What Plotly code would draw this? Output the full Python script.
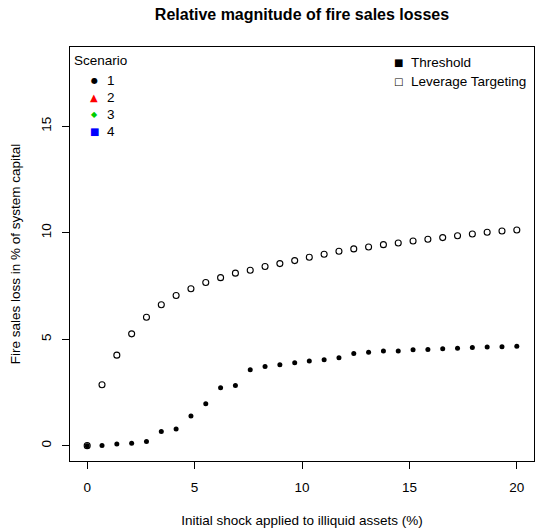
import plotly.graph_objects as go

# ---- data ----
shock_pct = [0.00, 0.69, 1.38, 2.07, 2.76, 3.45, 4.14, 4.83, 5.52, 6.21,
             6.90, 7.59, 8.28, 8.97, 9.66, 10.34, 11.03, 11.72, 12.41, 13.10,
             13.79, 14.48, 15.17, 15.86, 16.55, 17.24, 17.93, 18.62, 19.31, 20.00]
threshold_loss = [0.00, 0.01, 0.08, 0.11, 0.20, 0.67, 0.78, 1.39, 1.97, 2.72,
                  2.83, 3.56, 3.72, 3.80, 3.89, 3.97, 4.03, 4.13, 4.33, 4.39,
                  4.44, 4.45, 4.50, 4.52, 4.55, 4.58, 4.61, 4.63, 4.64, 4.67]
leverage_loss = [0.00, 2.86, 4.25, 5.25, 6.03, 6.62, 7.05, 7.37, 7.66, 7.89,
                 8.10, 8.24, 8.41, 8.55, 8.69, 8.85, 8.99, 9.13, 9.24, 9.33,
                 9.44, 9.52, 9.61, 9.69, 9.77, 9.86, 9.94, 10.02, 10.08, 10.13]
x_ticks = [0, 5, 10, 15, 20]
y_ticks = [0, 5, 10, 15]
scenario_labels = ["1", "2", "3", "4"]
scenario_symbols = ["\u25CF", "\u25B2", "\u25C6", "\u25A0"]
scenario_colors = ["black", "red", "#00CD00", "blue"]
scenario_sym_sizes = [8, 10, 8, 10]
method_labels = ["Threshold", "Leverage Targeting"]
method_symbols = ["\u25A0", "\u25A1"]

FONT = "Liberation Sans, Arial, Helvetica, sans-serif"
SYMFONT = "DejaVu Sans"

fig = go.Figure()
fig.add_trace(go.Scatter(
    x=shock_pct, y=leverage_loss, mode="markers", name="Leverage Targeting",
    marker=dict(symbol="circle-open", size=6, color="black", line=dict(width=1.1, color="black")),
    showlegend=False))
fig.add_trace(go.Scatter(
    x=shock_pct, y=threshold_loss, mode="markers", name="Threshold",
    marker=dict(symbol="circle", size=5, color="black", line=dict(width=0)),
    showlegend=False))

# plot area in px: left 70, right 534, top 47, bottom 461
L, R, T, B = 70, 534, 47, 461
W, H = R - L, B - T


def px(xp):
    return (xp - L) / W


def py(yp):
    return (B - yp) / H


ann = []
# Scenario legend
ann.append(dict(text="Scenario", x=px(72), y=py(60), xref="paper", yref="paper",
                xanchor="left", yanchor="middle", showarrow=False,
                font=dict(family=FONT, size=13.5, color="black")))
row_y = [80, 97, 114, 131]
for lab, sym, col, sz, yy in zip(scenario_labels, scenario_symbols, scenario_colors,
                                 scenario_sym_sizes, row_y):
    ann.append(dict(text=sym, x=px(94), y=py(yy), xref="paper", yref="paper",
                    xanchor="center", yanchor="middle", showarrow=False,
                    font=dict(family=SYMFONT, size=sz, color=col)))
    ann.append(dict(text=lab, x=px(105), y=py(yy), xref="paper", yref="paper",
                    xanchor="left", yanchor="middle", showarrow=False,
                    font=dict(family=FONT, size=13.5, color="black")))
# Method legend
for lab, sym, yy in zip(method_labels, method_symbols, [63, 81]):
    ann.append(dict(text=sym, x=px(398), y=py(yy), xref="paper", yref="paper",
                    xanchor="center", yanchor="middle", showarrow=False,
                    font=dict(family=SYMFONT, size=10, color="black")))
    ann.append(dict(text=lab, x=px(409), y=py(yy), xref="paper", yref="paper",
                    xanchor="left", yanchor="middle", showarrow=False,
                    font=dict(family=FONT, size=13.5, color="black")))

fig.update_layout(
    width=535, height=528,
    margin=dict(l=L, r=535 - R, t=T, b=528 - B),
    paper_bgcolor="white", plot_bgcolor="white",
    font=dict(family=FONT, size=13.5, color="black"),
    title=dict(text="<b>Relative magnitude of fire sales losses</b>",
               x=(L + W / 2) / 535, xanchor="center", y=1 - 14 / 528, yanchor="middle",
               font=dict(family=FONT, size=16, color="black")),
    annotations=ann,
    showlegend=False,
)
fig.update_xaxes(
    range=[-0.8, 20.8], tickmode="array", tickvals=x_ticks, ticktext=[str(v) for v in x_ticks],
    showgrid=False, zeroline=False, showline=True, linecolor="black", linewidth=1, mirror=True,
    ticks="outside", ticklen=7, tickwidth=1, tickcolor="black", ticklabelstandoff=7,
    title=dict(text="Initial shock applied to illiquid assets (%)", standoff=23,
               font=dict(family=FONT, size=13.5)),
)
fig.update_yaxes(
    range=[-0.72, 18.72], tickmode="array", tickvals=y_ticks, ticktext=[str(v) for v in y_ticks],
    tickangle=-90,
    showgrid=False, zeroline=False, showline=True, linecolor="black", linewidth=1, mirror=True,
    ticks="outside", ticklen=7, tickwidth=1, tickcolor="black", ticklabelstandoff=6,
    title=dict(text="Fire sales loss in % of system capital", standoff=14,
               font=dict(family=FONT, size=13.5)),
)

fig.write_html(
    "out.html",
    config={"displayModeBar": False},
    post_script="document.body.style.margin='0px';document.body.style.overflow='hidden';",
)
